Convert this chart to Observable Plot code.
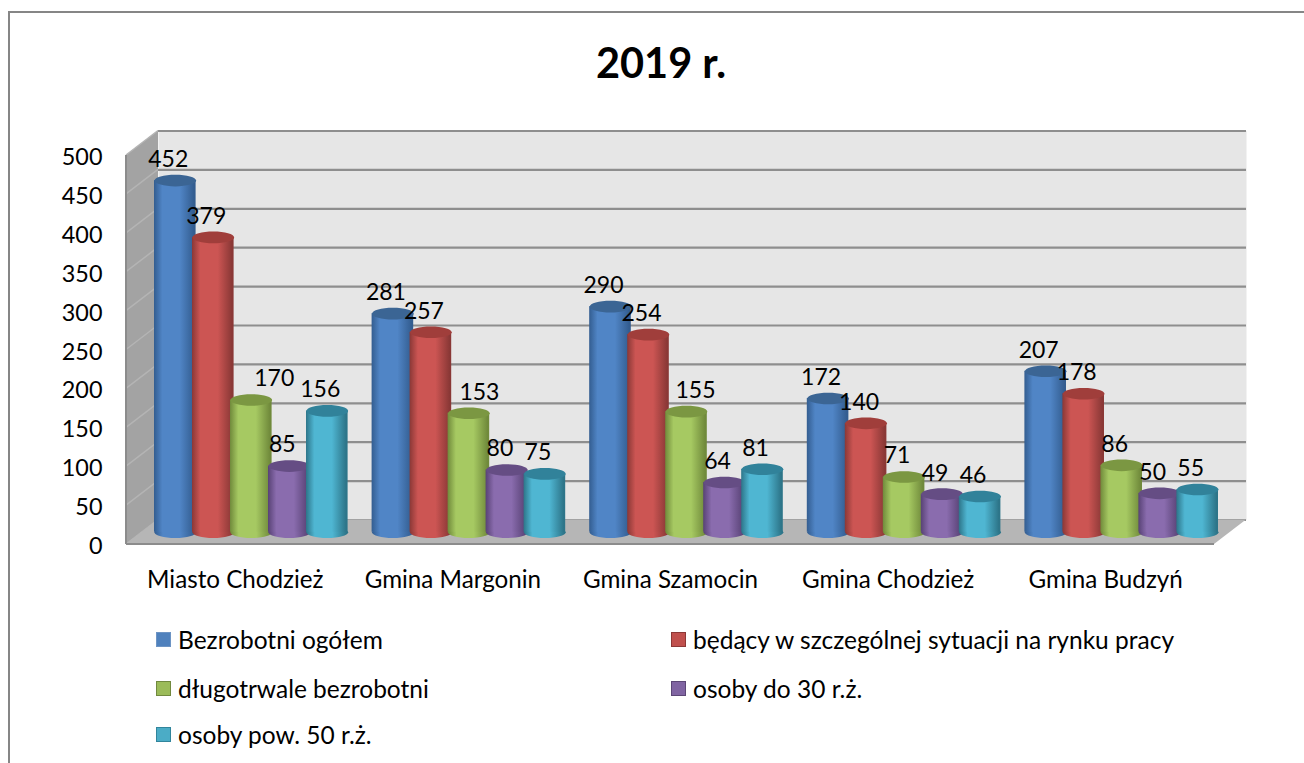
<!DOCTYPE html>
<html lang="pl">
<head>
<meta charset="utf-8">
<script src="https://cdn.jsdelivr.net/npm/d3@7"></script>
<script src="https://cdn.jsdelivr.net/npm/@observablehq/plot@0.6"></script>
<style>
  html, body { margin: 0; padding: 0; background: #fff; overflow: hidden; }
  #page { position: relative; width: 1304px; height: 763px; overflow: hidden; font-family: Lato, sans-serif; color: #000; }
  #border { position: absolute; left: 8px; top: 11px; width: 1400px; height: 900px; border: 2px solid #868686; box-sizing: border-box; }
  h1 { position: absolute; left: 0; top: 33px; width: 1322px; margin: 0; text-align: center; font-size: 41.5px; line-height: 58px; font-weight: 700; }
  #chart { position: absolute; left: 0; top: 110px; }
  #legend span.item { position: absolute; font-size: 24.5px; line-height: 26px; white-space: nowrap; padding-left: 22px; }
  #legend i { position: absolute; left: 0; top: 5px; width: 13px; height: 13px; border: 1.5px solid; }
</style>
</head>
<body>
<div id="page">
  <div id="border"></div>
  <h1 id="title"></h1>
  <div id="chart"></div>
  <div id="legend"></div>
</div>
<script>
const chartTitle = "2019 r.";
const categories = ["Miasto Chodzież", "Gmina Margonin", "Gmina Szamocin", "Gmina Chodzież", "Gmina Budzyń"];
const seriesNames = ["Bezrobotni ogółem", "będący w szczególnej sytuacji na rynku pracy", "długotrwale bezrobotni", "osoby do 30 r.ż.", "osoby pow. 50 r.ż."];
const bezrobotniOgolem = [452, 281, 290, 172, 207];
const wSzczegolnejSytuacji = [379, 257, 254, 140, 178];
const dlugotrwale = [170, 153, 155, 71, 86];
const doTrzydziestki = [85, 80, 64, 49, 50];
const powPiecdziesieciu = [156, 75, 81, 46, 55];
const yTicks = [0, 50, 100, 150, 200, 250, 300, 350, 400, 450, 500];

const seriesValues = [bezrobotniOgolem, wSzczegolnejSytuacji, dlugotrwale, doTrzydziestki, powPiecdziesieciu];

// Styling of each series: edge, centre and cap colours of the cylinder
const palette = [
  {edge: "#335d90", light: "#5085c6", cap: "#3b6594", box: "#4f81bd", line: "#6d94c4"},
  {edge: "#8a3836", light: "#cc5553", cap: "#a03e3b", box: "#c0504d", line: "#8c3836"},
  {edge: "#708a3b", light: "#a6c962", cap: "#7b9742", box: "#9bbb59", line: "#71893f"},
  {edge: "#584275", light: "#8a6cae", cap: "#654d84", box: "#8064a2", line: "#5c4776"},
  {edge: "#2d7589", light: "#4fb6d2", cap: "#31829a", box: "#4bacc6", line: "#31859c"}
];

// Depth of the 3-D box, in pixels
const depthX = 32, depthY = -24.5;
const step = 38, barWidth = 41.6, capRy = 5.8;

const cap = {
  draw(c) {
    const rx = barWidth / 2, ry = capRy, k = 0.5523;
    c.moveTo(rx, 0);
    c.bezierCurveTo(rx, k * ry, k * rx, ry, 0, ry);
    c.bezierCurveTo(-k * rx, ry, -rx, k * ry, -rx, 0);
    c.bezierCurveTo(-rx, -k * ry, -k * rx, -ry, 0, -ry);
    c.bezierCurveTo(k * rx, -ry, rx, -k * ry, rx, 0);
    c.closePath();
  }
};

function gradients() {
  const defs = d3.create("svg:defs");
  palette.forEach((p, j) => {
    const g = defs.append("linearGradient").attr("id", "cyl" + j);
    [[0, p.edge], [0.2, p.light], [0.62, p.light], [0.96, p.edge], [1, p.edge]].forEach(([o, c]) =>
      g.append("stop").attr("offset", o).attr("stop-color", c));
  });
  return defs.node();
}

function box(index, {y}, values, dims) {
  const left = dims.marginLeft, right = dims.width - dims.marginRight;
  const g = d3.create("svg:g");
  g.append("path")
    .attr("d", `M${left},${y(500)}L${left + depthX},${y(500) + depthY}L${left + depthX},${y(0) + depthY}L${left},${y(0)}Z`)
    .attr("fill", "#a3a3a3");
  g.selectAll("line").data(yTicks).join("line")
    .attr("x1", left).attr("y1", d => y(d))
    .attr("x2", left + depthX).attr("y2", d => y(d) + depthY)
    .attr("stroke", "#b4b4b4").attr("stroke-width", 1.5);
  g.append("path")
    .attr("d", `M${left},${y(0)}L${left + depthX},${y(0) + depthY}L${right + depthX},${y(0) + depthY}L${right},${y(0)}Z`)
    .attr("fill", "#b6b6b6");
  g.append("path")
    .attr("d", `M${left},${y(0)}L${right},${y(0)}M${left},${y(500)}L${left},${y(0)}`)
    .attr("stroke", "#8c8c8c").attr("stroke-width", 2).attr("fill", "none");
  return g.node();
}

const rows = seriesValues.map((vals, j) => categories.map((c, i) => ({category: c, value: vals[i], j})));

// Excel moved these labels sideways so they clear their neighbours
const labelShift = new Map([["2|0", 30], ["2|1", 17.5], ["2|2", 16]]);

const offset = j => (j - 2) * step + depthX / 2;

const marks = [
  gradients,
  Plot.frame({fill: "#e6e6e6", stroke: null, dx: depthX, dy: depthY}),
  Plot.ruleY(yTicks, {stroke: "#8e8e8e", strokeWidth: 2.2, dx: depthX, dy: depthY}),
  box
];
rows.forEach((row, j) => {
  const p = palette[j];
  const o = {x: "category", dx: offset(j), dy: depthY / 2};
  const inset = (1088 / 5 - barWidth) / 2;
  marks.push(
    Plot.dot(row, {...o, y: () => 0, symbol: cap, fill: `url(#cyl${j})`}),
    Plot.barY(row, {...o, y: "value", fill: `url(#cyl${j})`, insetLeft: inset, insetRight: inset}),
    Plot.dot(row, {...o, y: "value", symbol: cap, fill: p.cap})
  );
});
rows.forEach((row, j) => row.forEach((d, i) => {
  marks.push(Plot.text([d], {
    x: "category", y: "value", text: d => String(d.value),
    dx: offset(j) - 7 + (labelShift.get(`${j}|${i}`) || 0),
    dy: depthY / 2 - 21,
    fontSize: 23, fill: "#000"
  }));
}));
marks.push(
  Plot.axisY({ticks: yTicks, tickSize: 0, tickPadding: 24, label: null, fontSize: 23.4, dy: 2}),
  Plot.axisX({tickSize: 0, tickPadding: 26, label: null, fontSize: 24.2})
);

const svg = Plot.plot({
  width: 1304,
  height: 500,
  marginLeft: 126,
  marginRight: 90,
  marginTop: 45,
  marginBottom: 66,
  style: {background: "transparent", fontFamily: "Lato, sans-serif", overflow: "visible", color: "#000"},
  x: {type: "band", domain: categories, padding: 0, round: false},
  y: {domain: [0, 500]},
  marks
});

document.getElementById("title").textContent = chartTitle;
document.getElementById("chart").appendChild(svg);

const legendSpots = [[156, 627], [671, 627], [156, 676], [671, 676], [156, 722]];
const legend = document.getElementById("legend");
seriesNames.forEach((name, j) => {
  const el = document.createElement("span");
  el.className = "item";
  el.style.left = legendSpots[j][0] + "px";
  el.style.top = legendSpots[j][1] + "px";
  el.textContent = name;
  const sw = document.createElement("i");
  sw.style.background = palette[j].box;
  sw.style.borderColor = palette[j].line;
  el.prepend(sw);
  legend.appendChild(el);
});
</script>
</body>
</html>
